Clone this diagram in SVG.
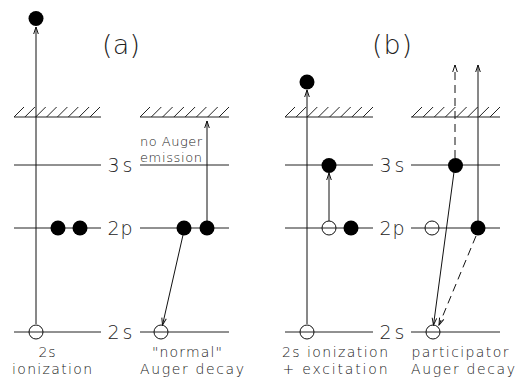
<svg xmlns="http://www.w3.org/2000/svg" width="521" height="383" viewBox="0 0 521 383">
<defs>
<marker id="ah" viewBox="-9 -4 10 8" refX="0" refY="0" markerWidth="10" markerHeight="8" markerUnits="userSpaceOnUse" orient="auto">
<path d="M-7,-2.3 L0,0 L-7,2.3" fill="none" stroke="#111" stroke-width="1"/>
</marker>
</defs>
<style>
.lv{stroke:#222;stroke-width:1;fill:none}
.ar{stroke:#111;stroke-width:1;fill:none;marker-end:url(#ah)}
.ds{stroke-dasharray:8 5}
.f{fill:#000}
.o{fill:none;stroke:#111;stroke-width:1}
text{font-family:"DejaVu Sans","Liberation Sans",sans-serif;font-weight:200;fill:#222;text-anchor:middle}
.big{font-size:27px}
.lab{font-size:19px}
.sm{font-size:14px}
.em{font-size:13px;text-anchor:start}
</style>
<rect width="521" height="383" fill="#fff"/>
<g id="levels">
<path class="lv" d="M14,117H101M140,117H229M285,117H373M411,117H500"/>
<path class="lv" d="M14,117l10,-10M24.9,117l10,-10M35.7,117l10,-10M46.6,117l10,-10M57.4,117l10,-10M68.3,117l10,-10M79.1,117l10,-10M90,117l10,-10"/>
<path class="lv" d="M140,117l10,-10M151.3,117l10,-10M162.6,117l10,-10M173.9,117l10,-10M185.1,117l10,-10M196.4,117l10,-10M207.7,117l10,-10M219,117l10,-10"/>
<path class="lv" d="M285,117l10,-10M296.1,117l10,-10M307.3,117l10,-10M318.4,117l10,-10M329.6,117l10,-10M340.7,117l10,-10M351.9,117l10,-10M363,117l10,-10"/>
<path class="lv" d="M412,117l10,-10M423.1,117l10,-10M434.3,117l10,-10M445.4,117l10,-10M456.6,117l10,-10M467.7,117l10,-10M478.9,117l10,-10M490,117l10,-10"/>
<path class="lv" d="M14,165H101M140,165H229M285,165H373M411,165H500"/>
<path class="lv" d="M14,228H101M140,228H229M285,228H373M411,228H500"/>
<path class="lv" d="M14,332H101M140,332H229M285,332H373M411,332H500"/>
</g>
<g id="level-labels">
<text class="lab" x="120" y="172" textLength="25" lengthAdjust="spacing">3s</text>
<text class="lab" x="120" y="235" textLength="25" lengthAdjust="spacing">2p</text>
<text class="lab" x="120" y="339" textLength="25" lengthAdjust="spacing">2s</text>
<text class="lab" x="392" y="172" textLength="25" lengthAdjust="spacing">3s</text>
<text class="lab" x="392" y="235" textLength="25" lengthAdjust="spacing">2p</text>
<text class="lab" x="392" y="339" textLength="25" lengthAdjust="spacing">2s</text>
</g>
<g id="titles">
<text class="big" x="121" y="54" textLength="38" lengthAdjust="spacing">(a)</text>
<text class="big" x="392" y="54" textLength="40" lengthAdjust="spacing">(b)</text>
</g>
<g id="connectors">
<line class="ar" x1="36" y1="324" x2="36" y2="27"/>
<line class="ar" x1="207" y1="221" x2="207" y2="121"/>
<line class="ar" x1="183" y1="235" x2="162.5" y2="325"/>
<line class="ar" x1="307" y1="324" x2="307" y2="90"/>
<line class="ar" x1="329" y1="221" x2="329" y2="173"/>
<line class="ar ds" x1="455" y1="158" x2="455" y2="65"/>
<line class="ar" x1="478" y1="221" x2="478" y2="65"/>
<line class="ar" x1="454" y1="172" x2="433.5" y2="325"/>
<line class="ar ds" x1="476" y1="236" x2="439" y2="325"/>
</g>
<g id="electrons">
<circle class="f" cx="36" cy="18.5" r="7.5"/>
<circle class="f" cx="58" cy="228" r="7.5"/>
<circle class="f" cx="80" cy="228" r="7.5"/>
<circle class="f" cx="184" cy="228" r="7.5"/>
<circle class="f" cx="207" cy="228" r="7.5"/>
<circle class="f" cx="307" cy="82" r="7.5"/>
<circle class="f" cx="329" cy="165.5" r="7.5"/>
<circle class="f" cx="351" cy="228" r="7.5"/>
<circle class="f" cx="455.5" cy="165.5" r="7.5"/>
<circle class="f" cx="478" cy="228" r="7.5"/>
</g>
<g id="holes">
<circle class="o" cx="36" cy="332" r="7"/>
<circle class="o" cx="161" cy="332" r="7"/>
<circle class="o" cx="307" cy="332" r="7"/>
<circle class="o" cx="329" cy="228" r="7"/>
<circle class="o" cx="432" cy="228" r="7"/>
<circle class="o" cx="433" cy="332" r="7"/>
</g>
<g id="note">
<text class="em" x="140" y="146" textLength="62" lengthAdjust="spacing">no Auger</text>
<text class="em" x="140" y="161.5" textLength="62" lengthAdjust="spacing">emission</text>
</g>
<g id="captions">
<text class="sm" x="47" y="357" textLength="17" lengthAdjust="spacing">2s</text>
<text class="sm" x="52" y="374" textLength="80" lengthAdjust="spacing">ionization</text>
<text class="sm" x="187" y="357" textLength="70" lengthAdjust="spacing">"normal"</text>
<text class="sm" x="192" y="374" textLength="104" lengthAdjust="spacing">Auger decay</text>
<text class="sm" x="335" y="357" textLength="106" lengthAdjust="spacing">2s ionization</text>
<text class="sm" x="335" y="374" textLength="105" lengthAdjust="spacing">+ excitation</text>
<text class="sm" x="460" y="357" textLength="97" lengthAdjust="spacing">participator</text>
<text class="sm" x="463" y="374" textLength="104" lengthAdjust="spacing">Auger decay</text>
</g>
</svg>
